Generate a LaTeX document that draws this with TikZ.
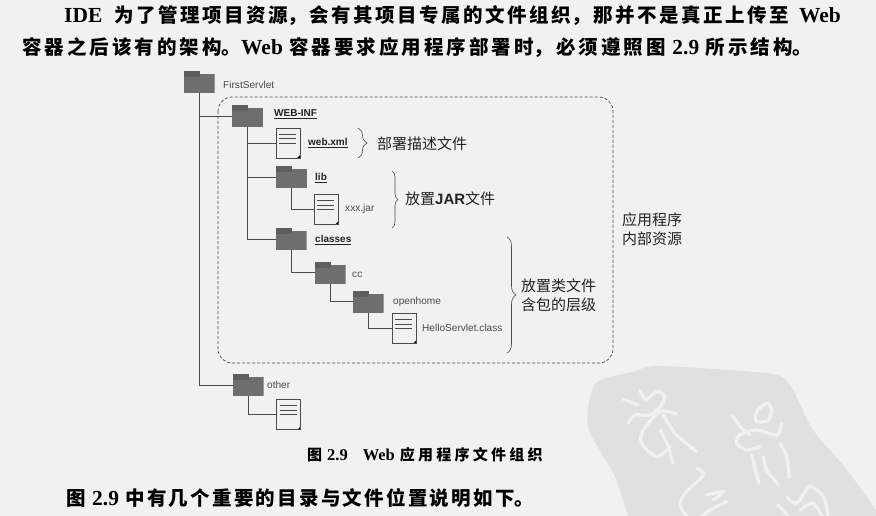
\documentclass[tikz,border=0pt]{standalone}
\usepackage{fontspec}
\usepackage{xcolor}
\usetikzlibrary{decorations.pathreplacing}
\setmainfont[Scale=1.1]{Liberation Serif}
\setsansfont{Liberation Sans}
\newfontfamily\cjkfont{Noto Sans CJK SC}
\definecolor{paper}{HTML}{F1F1F1}
\definecolor{seal}{HTML}{E0E0E0}
\definecolor{ink}{HTML}{222222}
\definecolor{wire}{HTML}{4A4A4A}
\definecolor{foldergray}{HTML}{6E6E6E}
\XeTeXlinebreaklocale "zh"
\XeTeXlinebreakskip=0pt plus 40pt
\tikzset{
  folder/.style={minimum width=31pt,minimum height=22pt,inner sep=0pt,outer sep=0pt,
    path picture={
      \fill[foldergray] ([yshift=-3pt]path picture bounding box.north west) rectangle (path picture bounding box.south east);
      \fill[foldergray!85!black] (path picture bounding box.north west) rectangle ++(16pt,-6pt);
    }},
  doc/.style={draw=wire,fill=paper,line width=0.6pt,minimum width=24pt,minimum height=30pt,inner sep=0pt,outer sep=0pt,
    path picture={
      \foreach \ly in {6,10.5,15}
        \draw[wire,line width=0.9pt] ([xshift=3pt,yshift=-\ly pt]path picture bounding box.north west) -- ++(17pt,0);
      \fill[black] (path picture bounding box.south east) -- ++(-3pt,0) -- ++(3pt,3pt) -- cycle;
    }},
  wiring/.style={draw=wire,line width=0.7pt},
  namelabel/.style={font=\sffamily\fontsize{10.1}{12}\selectfont,text=wire,inner sep=0pt,anchor=west},
  boldlabel/.style={font=\sffamily\bfseries\fontsize{10}{12}\selectfont,text=ink,inner sep=0pt,anchor=west},
  notelabel/.style={font=\cjkfont\fontsize{15}{19}\selectfont,text=ink,inner sep=0pt,align=left,anchor=west},
  bracemark/.style={draw=wire,line width=0.6pt,decorate,decoration={brace,amplitude=#1}},
  bodyline/.style={font=\cjkfont\bfseries\fontsize{19.5}{23}\selectfont,text=black,inner sep=0pt,anchor=west},
  sealstroke/.style={draw=paper,line width=3.2pt,line cap=round}
}
\newcommand{\latinbold}[1]{{\rmfamily\bfseries #1}}
\begin{document}
\begin{tikzpicture}[x=1pt,y=-1pt]
  \useasboundingbox (0,0) rectangle (876,516);
  \fill[paper] (0,0) rectangle (876,516);
  % seal in the corner
  \begin{scope}
    \clip (0,0) rectangle (876,516);
    \fill[seal] plot[smooth] coordinates {(632,530) (615,477) (590,433) (588,410) (597,382) (632,372) (657,366) (727,370) (777,375) (793,390) (813,430) (847,470) (890,530)};
    \begin{scope}[shift={(560,340)},x=0.3333pt,y=-0.3333pt]
      \draw[sealstroke] plot[smooth] coordinates {(190,178) (235,195)};
      \draw[sealstroke] plot[smooth] coordinates {(240,152) (258,178) (290,155) (312,165) (305,195) (270,225) (225,225) (205,250)};
      \draw[sealstroke] plot[smooth] coordinates {(350,222) (300,215) (250,270) (245,310) (290,350) (330,320)};
      \draw[sealstroke] plot[smooth] coordinates {(310,225) (345,280) (410,335)};
      \draw[sealstroke] plot[smooth] coordinates {(300,270) (325,320) (338,370)};
      \draw[sealstroke] plot[smooth] coordinates {(518,228) (545,265) (570,285)};
      \draw[sealstroke] plot[smooth cycle] coordinates {(620,190) (590,215) (590,245) (625,240) (635,210)};
      \draw[sealstroke] plot[smooth] coordinates {(665,250) (650,285) (590,270) (540,285) (530,310) (560,330) (600,320)};
      \draw[sealstroke] plot[smooth] coordinates {(660,310) (680,350) (688,412)};
      \draw[sealstroke] plot[smooth] coordinates {(575,345) (585,385) (597,430)};
      \draw[sealstroke] plot[smooth] coordinates {(610,350) (620,390) (655,435)};
      \draw[sealstroke] plot[smooth] coordinates {(410,385) (430,405) (375,460) (360,495) (385,535)};
      \draw[sealstroke] plot[smooth] coordinates {(440,465) (490,455) (460,480)};
      \draw[sealstroke] plot[smooth] coordinates {(500,485) (450,510) (420,535)};
      \draw[sealstroke] plot[smooth] coordinates {(655,495) (690,535)};
      \draw[sealstroke] plot[smooth] coordinates {(680,470) (710,490) (750,440) (790,470) (805,530)};
      \draw[sealstroke] plot[smooth] coordinates {(720,510) (760,490) (790,535)};
    \end{scope}
  \end{scope}
  % text of the page
  \node[bodyline,text width=779pt] (line1) at (64,16) {\parfillskip=0pt \latinbold{IDE}\hspace{12pt}为了管理项目资源，会有其项目专属的文件组织，那并不是真正上传至\hspace{10pt}\latinbold{Web}\par};
  \node[bodyline,text width=793pt] (line2) at (22,48) {\parfillskip=0pt 容器之后该有的架构。\latinbold{Web} 容器要求应用程序部署时，必须遵照图 \latinbold{2.9} 所示结构。\par};
  \node[bodyline,font=\cjkfont\bfseries\fontsize{15}{18}\selectfont,text width=238pt] (caption) at (307,455) {\parfillskip=0pt 图 \latinbold{2.9}\quad \latinbold{Web} 应用程序文件组织\par};
  \node[bodyline,text width=470pt] (line3) at (66,498) {\parfillskip=0pt 图 \latinbold{2.9} 中有几个重要的目录与文件位置说明如下。\par};
  % region of the application
  \draw[wire,line width=0.7pt,densely dashed,rounded corners=14pt] (218,97) rectangle (613,363);
  % folders and files
  \node[folder] (firstservlet) at (199,82) {};
  \node[folder] (webinf) at (247.5,116) {};
  \node[doc] (webxml) at (288,143) {};
  \node[folder] (lib) at (291.5,177) {};
  \node[doc] (xxxjar) at (326,209.5) {};
  \node[folder] (classes) at (291,239) {};
  \node[folder] (cc) at (330,272.5) {};
  \node[folder] (openhome) at (368,301.5) {};
  \node[doc] (helloclass) at (404,328.5) {};
  \node[folder] (other) at (248,385) {};
  \node[doc] (otherfile) at (288.5,414.5) {};
  \draw[wiring] (firstservlet.south) |- (webinf.west);
  \draw[wiring] (firstservlet.south) |- (other.west);
  \draw[wiring] (webinf.south) |- (webxml.west);
  \draw[wiring] (webinf.south) |- (lib.west);
  \draw[wiring] (webinf.south) |- (classes.west);
  \draw[wiring] (lib.south) |- (xxxjar.west);
  \draw[wiring] (classes.south) |- (cc.west);
  \draw[wiring] (cc.south) |- (openhome.west);
  \draw[wiring] (openhome.south) |- (helloclass.west);
  \draw[wiring] (other.south) |- (otherfile.west);
  % names
  \node[namelabel] (firstservletname) at (223,85) {FirstServlet};
  \node[boldlabel] (webinfname) at (274,114) {\underline{WEB-INF}};
  \node[boldlabel] (webxmlname) at (308,143) {\underline{web.xml}};
  \node[boldlabel] (libname) at (315,178) {\underline{lib}};
  \node[namelabel] (xxxjarname) at (345,209) {xxx.jar};
  \node[boldlabel] (classesname) at (315,240) {\underline{classes}};
  \node[namelabel] (ccname) at (352,275) {cc};
  \node[namelabel] (openhomename) at (393,302) {openhome};
  \node[namelabel] (helloclassname) at (422,328) {HelloServlet.class};
  \node[namelabel] (othername) at (267,385) {other};
  % braces and notes
  \draw[bracemark=9pt] (358,128) -- (358,158);
  \draw[bracemark=6pt] (392,171) -- (392,228);
  \draw[bracemark=9pt] (507,237) -- (507,353);
  \node[notelabel] (webxmlnote) at (377,144) {部署描述文件};
  \node[notelabel] (libnote) at (405,199) {放置{\sffamily\bfseries JAR}文件};
  \node[notelabel] (classesnote) at (521,295) {放置类文件\\含包的层级};
  \node[notelabel] (regionnote) at (622,229) {应用程序\\内部资源};
\end{tikzpicture}
\end{document}
